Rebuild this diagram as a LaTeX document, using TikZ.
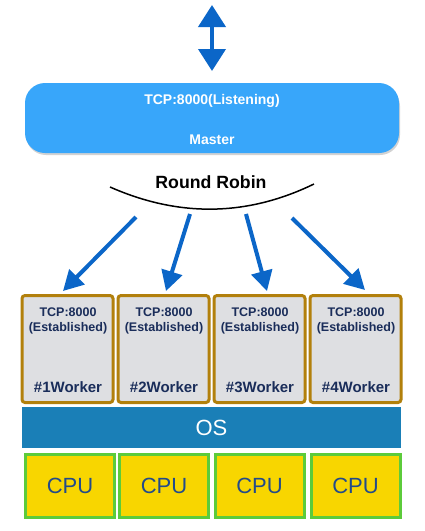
\documentclass[tikz,border=0pt]{standalone}
\usepackage{fontspec}
\setmainfont{Liberation Sans}
\usetikzlibrary{arrows.meta}
\definecolor{arrowblue}{HTML}{0B66C8}
\definecolor{masterblue}{HTML}{38A6FA}
\definecolor{osblue}{HTML}{1A7FB7}
\definecolor{workerbrown}{HTML}{B2800C}
\definecolor{workerfill}{HTML}{DEDFE2}
\definecolor{workertext}{HTML}{1A2D5A}
\definecolor{cpuyellow}{HTML}{F8D600}
\definecolor{cpugreen}{HTML}{5CCB3B}
\definecolor{cputext}{HTML}{234B8A}
\begin{document}
\begin{tikzpicture}[x=1pt,y=-1pt,
  workerbox/.style={draw=workerbrown, line width=3pt, fill=workerfill, rounded corners=3pt,
    minimum width=91pt, minimum height=107pt, inner sep=0pt},
  cpubox/.style={draw=cpugreen, line width=3pt, fill=cpuyellow, minimum width=89pt,
    minimum height=63pt, inner sep=0pt, text=cputext, font=\fontsize{22}{26}\selectfont},
  tcplabel/.style={text=workertext, font=\bfseries\fontsize{12.5}{14}\selectfont, inner sep=0pt},
  workerlabel/.style={text=workertext, font=\bfseries\fontsize{15}{17}\selectfont, inner sep=0pt},
  masterlabel/.style={text=white, font=\bfseries\fontsize{14}{16}\selectfont, inner sep=0pt},
  rrarrow/.style={draw=arrowblue, line width=4pt, -{Triangle[length=20pt,width=21pt]}},
  dblarrow/.style={draw=arrowblue, line width=4pt, {Triangle[length=22pt,width=27pt]}-{Triangle[length=22pt,width=27pt]}}
]
\useasboundingbox (0,0) rectangle (425,531);
\fill[white] (0,0) rectangle (425,531);

% double arrow on top
\coordinate (topA) at (212,5);
\coordinate (topB) at (212,71);
\draw[dblarrow] (topA) -- (topB);

% master
\fill[black!35, opacity=0.5, rounded corners=20pt] (26,86) rectangle (400,155);
\node[fill=masterblue, rounded corners=20pt, minimum width=374pt, minimum height=70pt, inner sep=0pt] (master) at (212,118) {};
\node[masterlabel] (mtcp) at (212,101) {TCP:8000(Listening)};
\node[masterlabel] (mname) at (212,140) {Master};

% round robin
\node[font=\bfseries\fontsize{17.7}{20}\selectfont, inner sep=0pt] (rr) at (211,182) {Round Robin};
\coordinate (arcL) at (110,187);
\coordinate (arcR) at (314,184);
\draw[line width=1.5pt] (arcL) .. controls (178,217) and (246,217) .. (arcR);

% workers
\foreach \i/\x in {1/67.5, 2/163.5, 3/259.5, 4/355.5}{
  \node[workerbox] (w\i) at (\x,349) {};
  \node[tcplabel] (wt\i) at (\x+0.5,312) {TCP:8000};
  \node[tcplabel] (we\i) at (\x+0.5,328) {(Established)};
  \node[workerlabel] (wn\i) at (\x+0.5,387) {\#\i Worker};
}

% arrows from round robin
\coordinate (s1) at (136,217); \coordinate (e1) at (63,291);
\coordinate (s2) at (190,214); \coordinate (e2) at (166,291);
\coordinate (s3) at (246,214); \coordinate (e3) at (267,291);
\coordinate (s4) at (292,218); \coordinate (e4) at (365,290);
\draw[rrarrow] (s1) -- (e1);
\draw[rrarrow] (s2) -- (e2);
\draw[rrarrow] (s3) -- (e3);
\draw[rrarrow] (s4) -- (e4);

% OS
\node[fill=osblue, minimum width=379pt, minimum height=41pt, inner sep=0pt,
  text=white, font=\fontsize{22}{26}\selectfont] (os) at (211.5,427.5) {OS};

% CPUs
\node[cpubox] (c1) at (70,486) {CPU};
\node[cpubox] (c2) at (164,486) {CPU};
\node[cpubox] (c3) at (259.5,486) {CPU};
\node[cpubox] (c4) at (355.5,486) {CPU};
\end{tikzpicture}
\end{document}
